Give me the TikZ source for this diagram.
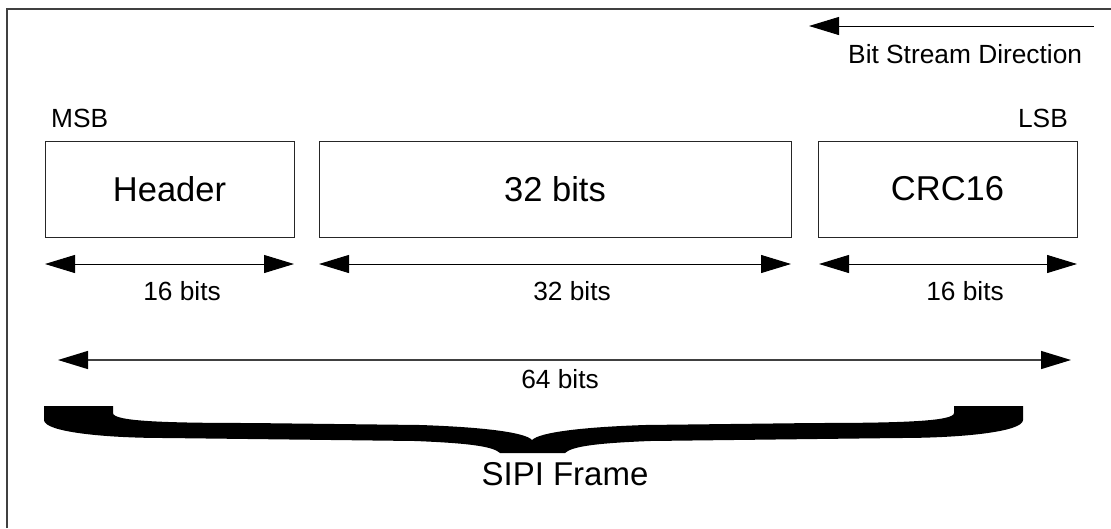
\documentclass[tikz,border=0pt]{standalone}
\usepackage{fontspec}
\setmainfont{Liberation Sans}
\usetikzlibrary{arrows.meta}
\begin{document}
\begin{tikzpicture}[x=1pt,y=-1pt,
  fieldbox/.style={draw=black!85,line width=0.9pt,rectangle,minimum height=96pt,inner sep=0pt,font=\fontsize{34.5}{40}\selectfont},
  small/.style={font=\fontsize{26.3}{31}\selectfont,inner sep=0pt,anchor=base},
  big/.style={font=\fontsize{33}{38}\selectfont,inner sep=0pt,anchor=base},
  dim/.style={line width=1pt,{Triangle[length=30pt,width=18pt,color=black]}-{Triangle[length=30pt,width=18pt,color=black]}},
  lead/.style={line width=1pt,{Triangle[length=30pt,width=18pt]}-}
]
\useasboundingbox (0,0) rectangle (1111,528);
\draw[line width=1.6pt,black!75] (7,528) -- (7,9) -- (1111,9);

% bit stream direction
\coordinate (dirR) at (1094,26);
\coordinate (dirL) at (809,26);
\draw[lead] (dirL) -- (dirR);
\node[small,anchor=base west] (dir) at (848,63) {Bit Stream Direction};

\node[small,anchor=base west] (msb) at (51,127) {MSB};
\node[small,anchor=base east] (lsb) at (1068,127) {LSB};

% fields
\node[fieldbox,minimum width=249pt] (hdr) at (169.5,189) {Header};
\node[fieldbox,minimum width=472pt] (dat) at (555,189) {32 bits};
\node[fieldbox,minimum width=259pt] (crc) at (947.5,189) {CRC16};

% dimension arrows
\coordinate (h1) at (45,264); \coordinate (h2) at (294,264);
\coordinate (d1) at (319,264); \coordinate (d2) at (791,264);
\coordinate (c1) at (819,264); \coordinate (c2) at (1077,264);
\draw[dim] (h1) -- (h2);
\draw[dim] (d1) -- (d2);
\draw[dim] (c1) -- (c2);
\node[small] (hl) at (182,300) {16 bits};
\node[small] (dl) at (572,300) {32 bits};
\node[small] (cl) at (965,300) {16 bits};

\coordinate (t1) at (58,360); \coordinate (t2) at (1071,360);
\draw[dim,draw=black!75,line width=1.3pt] (t1) -- (t2);
\node[small] (tl) at (560,388) {64 bits};

% brace
\fill[black] (44,406) -- (113,406) -- (113,413)
  .. controls (113,421) and (160,423) .. (250,423) -- (420,425)
  .. controls (480,427) and (525,432) .. (532,440)
  .. controls (540,432) and (585,427) .. (645,425) -- (815,423)
  .. controls (905,423) and (954,421) .. (954,413) -- (954,406) -- (1023,406) -- (1023,420)
  .. controls (1023,432) and (960,438) .. (900,438) -- (650,441)
  .. controls (600,443) and (572,446) .. (565,453) -- (500,453)
  .. controls (493,446) and (465,443) .. (415,441) -- (165,438)
  .. controls (105,438) and (44,432) .. (44,420) -- cycle;
\node[big] (sipi) at (565,485) {SIPI Frame};
\end{tikzpicture}
\end{document}
